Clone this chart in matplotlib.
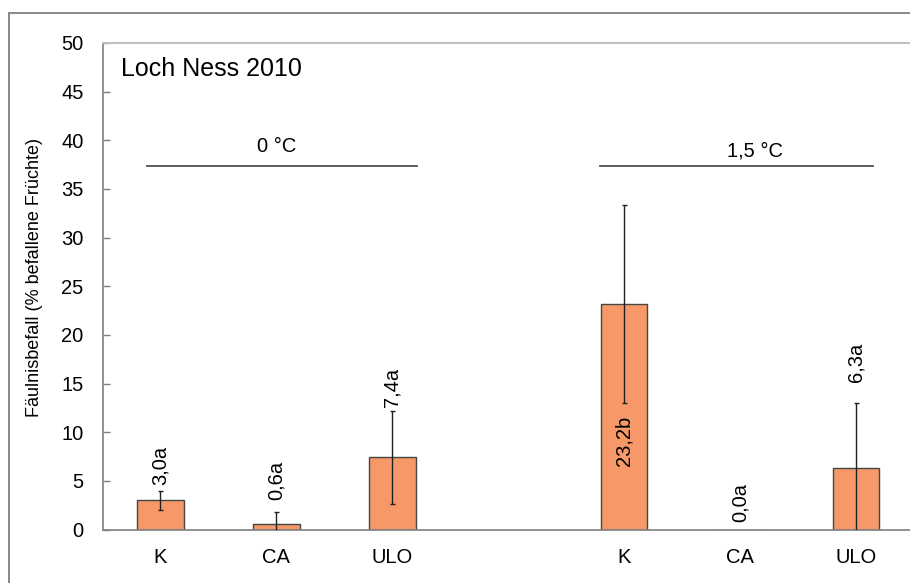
import numpy as np
import matplotlib
matplotlib.use("Agg")
import matplotlib.pyplot as plt
from matplotlib.patches import Rectangle

plt.rcParams["font.family"] = ["Liberation Sans", "DejaVu Sans"]

# Lagerversuch Loch Ness 2010: Fäulnisbefall je Lagervariante
cats = ["K", "CA", "ULO", "", "K", "CA", "ULO"]
means = [3.0, 0.6, 7.4, np.nan, 23.2, 0.0, 6.3]
errs = [1.0, 1.2, 4.8, np.nan, 10.2, 0.0, 6.7]
letters = ["a", "a", "a", "", "b", "a", "a"]
temps = ["0 °C", "1,5 °C"]

# label placement (data units)
label_y = [4.6, 3.0, 12.6, np.nan, 9.1, 0.8, 15.2]
label_va = ["bottom", "bottom", "bottom", "", "center", "bottom", "bottom"]

FS = 14.5

fig = plt.figure(figsize=(9.10, 5.83), dpi=100)
fig.patches.append(Rectangle((9 / 910, -0.1), 1.2, 1 - 13 / 583 + 0.1,
                             transform=fig.transFigure, fill=False,
                             edgecolor="#7f7f7f", lw=1.3))
ax = fig.add_axes([102.5 / 910, 53.5 / 583, 811.5 / 910, 486.5 / 583])

x = np.arange(len(cats))
ok = ~np.isnan(means)
ax.bar(x[ok], np.array(means)[ok], width=0.4, color="#F69868",
       edgecolor="#454545", lw=1.0, zorder=2)
e = np.array(errs)
has_err = ok & (e > 0)
ax.errorbar(x[has_err], np.array(means)[has_err], yerr=e[has_err], fmt="none",
            ecolor="#202020", elinewidth=1.0, capsize=1.8, capthick=1.0, zorder=3)

for xi, m, l, ly, va in zip(x, means, letters, label_y, label_va):
    if np.isnan(m):
        continue
    s = f"{m:.1f}".replace(".", ",") + l
    ax.text(xi, ly, s, rotation=90, ha="center", va=va, fontsize=FS, zorder=4)

# temperature group brackets
ax.plot([-0.115, 2.21], [37.4, 37.4], color="#505050", lw=1.3)
ax.plot([3.79, 6.15], [37.4, 37.4], color="#505050", lw=1.3)
ax.text(1.0, 38.8, temps[0], ha="center", va="baseline", fontsize=FS)
ax.text(5.13, 38.3, temps[1], ha="center", va="baseline", fontsize=FS)

ax.text(-0.339, 46.6, "Loch Ness 2010", ha="left", va="baseline", fontsize=18)

ax.set_xlim(-0.5, 6.5)
ax.set_ylim(0, 50)
ax.set_yticks(np.arange(0, 51, 5))
ax.set_xticks(x[ok])
ax.set_xticklabels([c for c, o in zip(cats, ok) if o])
ax.tick_params(axis="y", direction="in", length=5, width=1, color="#7f7f7f",
               pad=13.5, labelsize=FS)
ax.tick_params(axis="x", length=0, pad=13.3, labelsize=FS)
ax.set_ylabel("Fäulnisbefall (% befallene Früchte)", fontsize=13)
ax.yaxis.set_label_coords(-0.073, 0.518)

ax.spines["right"].set_visible(False)
ax.spines["top"].set_color("#c0c0c0")
ax.spines["top"].set_linewidth(1.5)
for sp in ("left", "bottom"):
    ax.spines[sp].set_color("#7f7f7f")
    ax.spines[sp].set_linewidth(1.2)

fig.savefig("out.png", dpi=100)
